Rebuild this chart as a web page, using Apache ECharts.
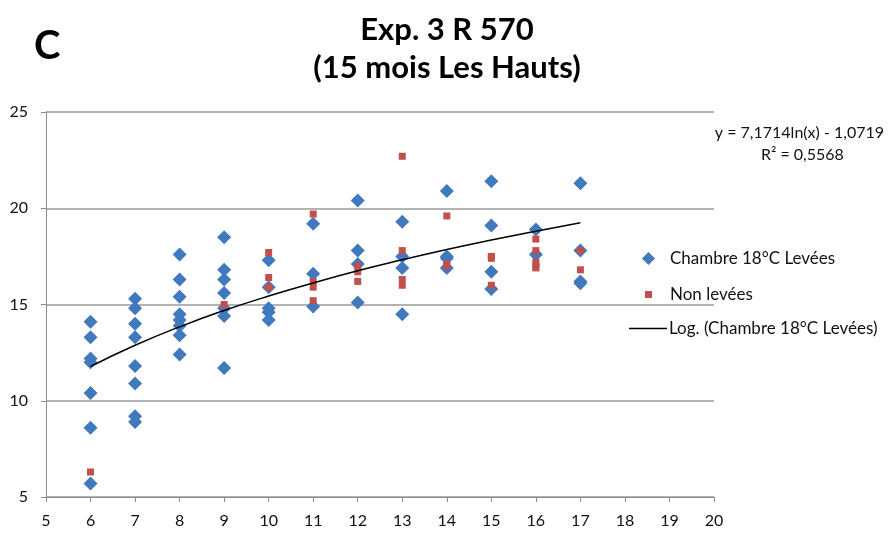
<!DOCTYPE html>
<html>
<head>
<meta charset="utf-8">
<script src="https://cdn.jsdelivr.net/npm/echarts@6/dist/echarts.min.js"></script>
<style>html,body{margin:0;padding:0;background:#fff}#c{width:894px;height:534px}</style>
</head>
<body>
<div id="c"></div>
<script>
const titleLines = ['Exp. 3 R 570', '(15 mois Les Hauts)'];
const panelLetter = 'C';
const seriesNames = ['Chambre 18°C Levées', 'Non levées', 'Log. (Chambre 18°C Levées)'];
const equationText = 'y = 7,1714ln(x) - 1,0719';
const r2Text = 'R² = 0,5568';

// Chambre 18°C Levées: [age, value]
const levees = [
  [6,14.1],[6,13.3],[6,12.2],[6,12.0],[6,10.4],[6,8.6],[6,5.7],
  [7,15.3],[7,14.8],[7,14.0],[7,13.3],[7,11.8],[7,10.9],[7,9.2],[7,8.9],
  [8,17.6],[8,16.3],[8,15.4],[8,14.5],[8,14.2],[8,13.9],[8,13.4],[8,12.4],
  [9,18.5],[9,16.8],[9,16.3],[9,15.6],[9,14.8],[9,14.4],[9,11.7],
  [10,17.3],[10,15.9],[10,14.8],[10,14.6],[10,14.2],
  [11,19.2],[11,16.6],[11,14.9],
  [12,20.4],[12,17.8],[12,17.1],[12,15.1],
  [13,19.3],[13,17.5],[13,16.9],[13,14.5],
  [14,20.9],[14,17.5],[14,17.4],[14,16.9],
  [15,21.4],[15,19.1],[15,16.7],[15,15.8],
  [16,18.9],[16,17.6],
  [17,21.3],[17,17.8],[17,16.2],[17,16.1]
];
// Non levées
const nonLevees = [
  [6,6.3],
  [9,15.0],
  [10,17.7],[10,16.4],[10,15.9],
  [11,19.7],[11,16.2],[11,15.9],[11,15.2],
  [12,17.0],[12,16.7],[12,16.2],
  [13,22.7],[13,17.8],[13,16.3],[13,16.0],
  [14,19.6],[14,17.1],[14,17.0],
  [15,17.5],[15,17.4],[15,16.0],
  [16,18.4],[16,17.8],[16,17.2],[16,17.0],[16,16.9],
  [17,17.8],[17,16.8]
];
// Log trend line values
const trendX = [6,7,8,9,10,11,12,13,14,15,16,17];
const trendY = [11.78,12.88,13.84,14.69,15.44,16.12,16.75,17.32,17.86,18.35,18.81,19.25];

const FONT = 'Lato, "Open Sans", sans-serif';
const chart = echarts.init(document.getElementById('c'), null, {renderer:'canvas'});
chart.setOption({
  backgroundColor:'#fff',
  animation:false,
  title:[
    {text: titleLines.join('\n'), left: 442, top: 6, textAlign:'center',
     textStyle:{fontFamily:FONT, fontSize:31, fontWeight:'bold', color:'#000', lineHeight:38}},
    {text: panelLetter, left: 29, top: 21,
     textStyle:{fontFamily:FONT, fontSize:40, fontWeight:'bold', color:'#000'}}
  ],
  grid:{left:46, right:180, top:112, bottom:37, containLabel:false},
  xAxis:{type:'value', min:5, max:20, interval:1,
    axisLine:{show:true, lineStyle:{color:'#8c8c8c', width:1}},
    axisTick:{show:true, inside:false, length:5, lineStyle:{color:'#8c8c8c'}},
    splitLine:{show:false},
    axisLabel:{fontFamily:FONT, fontSize:16, color:'#111', margin:16}},
  yAxis:{type:'value', min:5, max:25, interval:5,
    axisLine:{show:true, lineStyle:{color:'#8c8c8c', width:1}},
    axisTick:{show:true, inside:false, length:5, lineStyle:{color:'#8c8c8c'}},
    splitLine:{show:true, lineStyle:{color:'#9a9a9a', width:1.5}},
    axisLabel:{fontFamily:FONT, fontSize:16, color:'#111', margin:18}},
  legend:[
    {data:[{name:seriesNames[0], icon:'diamond'}], orient:'vertical', left:642, top:250, padding:0,
     itemWidth:13, itemHeight:13, textStyle:{fontFamily:FONT, fontSize:17, color:'#111', padding:[0,0,0,10]}},
    {data:[{name:seriesNames[1], icon:'rect'}], orient:'vertical', left:645, top:286, padding:0,
     itemWidth:7, itemHeight:7, textStyle:{fontFamily:FONT, fontSize:17, color:'#111', padding:[0,0,0,13]}},
    {data:[{name:seriesNames[2], icon:'rect'}], orient:'vertical', left:629, top:320, padding:0,
     itemWidth:38, itemHeight:1.5, textStyle:{fontFamily:FONT, fontSize:17, color:'#111', padding:[0,0,0,-3]}}
  ],
  graphic:[
    {type:'text', right: 10, top: 125, style:{text:equationText, font:'16px '+FONT, fill:'#111', textAlign:'right'}},
    {type:'text', left: 761, top: 147, style:{text:r2Text, font:'16px '+FONT, fill:'#111'}}
  ],
  series:[
    {name:seriesNames[0], type:'scatter', data:levees, symbol:'diamond', symbolSize:[14,14],
     itemStyle:{color:'#4179bf', opacity:1}, z:3},
    {name:seriesNames[1], type:'scatter', data:nonLevees, symbol:'rect', symbolSize:[7,7],
     itemStyle:{color:'#c0504d', opacity:1}, z:4},
    {name:seriesNames[2], type:'line', data:trendX.map((x,i)=>[x,trendY[i]]), smooth:true,
     symbol:'none', showSymbol:false, lineStyle:{color:'#000', width:1.5}, itemStyle:{color:'#000'}, z:5}
  ]
});
</script>
</body>
</html>
